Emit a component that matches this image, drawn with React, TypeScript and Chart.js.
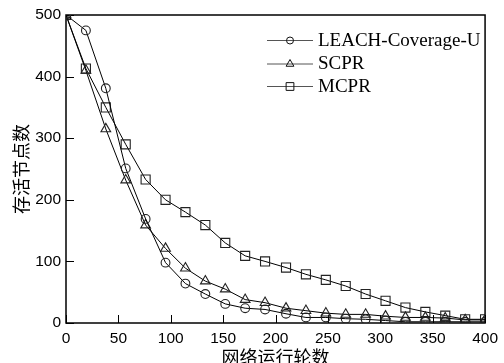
import React, { useEffect, useRef } from "react";
import { Chart, registerables } from "chart.js";

Chart.register(...registerables);

const ROUNDS = [0, 19, 38, 57, 76, 95, 114, 133, 152, 171, 190, 210, 229, 248, 267, 286, 305, 324, 343, 362, 381, 400];
const LEACH_COVERAGE_U = [500, 475, 381, 251, 169, 98, 64, 47, 31, 24, 22, 15, 9, 9, 7, 6, 4, 2, 2, 2, 2, 2];
const SCPR = [500, 410, 315, 232, 159, 121, 89, 68, 55, 38, 33, 24, 20, 16, 14, 14, 11, 9, 9, 8, 5, 5];
const MCPR = [500, 413, 350, 290, 233, 200, 180, 159, 130, 109, 100, 90, 79, 70, 60, 47, 36, 25, 18, 12, 6, 6];

const SERIES_NAMES = ["LEACH-Coverage-U", "SCPR", "MCPR"];
const X_TITLE = "网络运行轮数";
const Y_TITLE = "存活节点数";

const TICK_FONT = { family: "'Liberation Sans', Arial, sans-serif", size: 15.5 };
const TITLE_FONT = { family: "'Noto Sans CJK SC', sans-serif", size: 18, lineHeight: 1 };

function drawMarker(ctx: CanvasRenderingContext2D, style: string, x: number, y: number, r: number) {
  ctx.beginPath();
  if (style === "circle") {
    ctx.arc(x, y, r, 0, Math.PI * 2);
  } else if (style === "triangle") {
    ctx.moveTo(x, y - r);
    ctx.lineTo(x + r * 0.866, y + r * 0.5);
    ctx.lineTo(x - r * 0.866, y + r * 0.5);
    ctx.closePath();
  } else {
    ctx.rect(x - r * 0.707, y - r * 0.707, r * 1.414, r * 1.414);
  }
  ctx.stroke();
}

const framePlugin = {
  id: "frame",
  beforeDatasetsDraw(chart: any) {
    const { ctx, chartArea: a, scales } = chart;
    ctx.save();
    ctx.strokeStyle = "#000";
    ctx.lineWidth = 1;
    ctx.beginPath();
    scales.x.ticks.forEach((t: any) => {
      const px = Math.round(scales.x.getPixelForValue(t.value)) + 0.5;
      ctx.moveTo(px, a.bottom);
      ctx.lineTo(px, a.bottom - 8);
    });
    scales.y.ticks.forEach((t: any) => {
      const py = Math.round(scales.y.getPixelForValue(t.value)) + 0.5;
      ctx.moveTo(a.left, py);
      ctx.lineTo(a.left + 8, py);
    });
    ctx.stroke();
    ctx.lineWidth = 1.5;
    ctx.strokeRect(a.left, a.top, a.right - a.left, a.bottom - a.top);
    ctx.restore();
  },
  afterDatasetsDraw(chart: any) {
    const { ctx } = chart;
    ctx.save();
    const x0 = 267, x1 = 313, tx = 318;
    const rows = [40, 63.5, 86];
    const legendR = [3.5, 4.5, 5.5];
    chart.data.datasets.forEach((ds: any, i: number) => {
      const y = rows[i];
      ctx.strokeStyle = "#555";
      ctx.lineWidth = 1;
      ctx.beginPath();
      ctx.moveTo(x0, y + 0.5);
      ctx.lineTo(x1, y + 0.5);
      ctx.stroke();
      ctx.strokeStyle = "#111";
      drawMarker(ctx, ds.pointStyle, (x0 + x1) / 2, y + 0.5, legendR[i]);
      ctx.fillStyle = "#000";
      ctx.font = "19px 'Liberation Serif', 'Times New Roman', serif";
      ctx.textAlign = "left";
      ctx.textBaseline = "middle";
      ctx.fillText(ds.label, tx, y + 1);
    });
    ctx.restore();
  },
};

export default function App() {
  const ref = useRef<HTMLCanvasElement | null>(null);

  useEffect(() => {
    document.body.style.margin = "0";
    const canvas = ref.current;
    if (!canvas) return;
    const mk = (vals: number[]) => ROUNDS.map((x, i) => ({ x, y: vals[i] }));
    const base = {
      borderColor: "#000",
      borderWidth: 1,
      pointBorderColor: "#222",
      pointBackgroundColor: "rgba(0,0,0,0)",
      pointBorderWidth: 1.1,
      tension: 0,
      fill: false,
    };
    const chart = new Chart(canvas, {
      type: "line",
      data: {
        datasets: [
          { ...base, label: SERIES_NAMES[0], data: mk(LEACH_COVERAGE_U), pointStyle: "circle", pointRadius: 4.4 },
          { ...base, label: SERIES_NAMES[1], data: mk(SCPR), pointStyle: "triangle", pointRadius: 5.6 },
          { ...base, label: SERIES_NAMES[2], data: mk(MCPR), pointStyle: "rect", pointRadius: 6.4 },
        ] as any,
      },
      options: {
        responsive: false,
        animation: false,
        layout: { padding: { top: 15, right: 12, left: 0, bottom: 0 } },
        plugins: { legend: { display: false }, tooltip: { enabled: false } },
        scales: {
          x: {
            type: "linear",
            min: 0,
            max: 400,
            ticks: { stepSize: 50, color: "#000", font: TICK_FONT, padding: 6, maxRotation: 0 },
            grid: { display: false, drawTicks: false },
            border: { display: false },
            title: { display: true, text: X_TITLE, color: "#000", font: TITLE_FONT, padding: { top: 0, bottom: -3 } },
            afterFit: (s: any) => { s.height = 40; },
          },
          y: {
            min: 0,
            max: 500,
            ticks: { stepSize: 100, color: "#000", font: TICK_FONT, padding: 5 },
            grid: { display: false, drawTicks: false },
            border: { display: false },
            title: { display: true, text: Y_TITLE, color: "#000", font: TITLE_FONT, padding: { top: 12, bottom: 0 } },
            afterFit: (s: any) => { s.width = 66; },
          },
        },
      } as any,
      plugins: [framePlugin],
    });
    return () => chart.destroy();
  }, []);

  return (
    <div style={{ position: "absolute", left: 0, top: 0, width: 504, height: 363 }}>
      <canvas ref={ref} width={504} height={363} style={{ display: "block" }} />
    </div>
  );
}
